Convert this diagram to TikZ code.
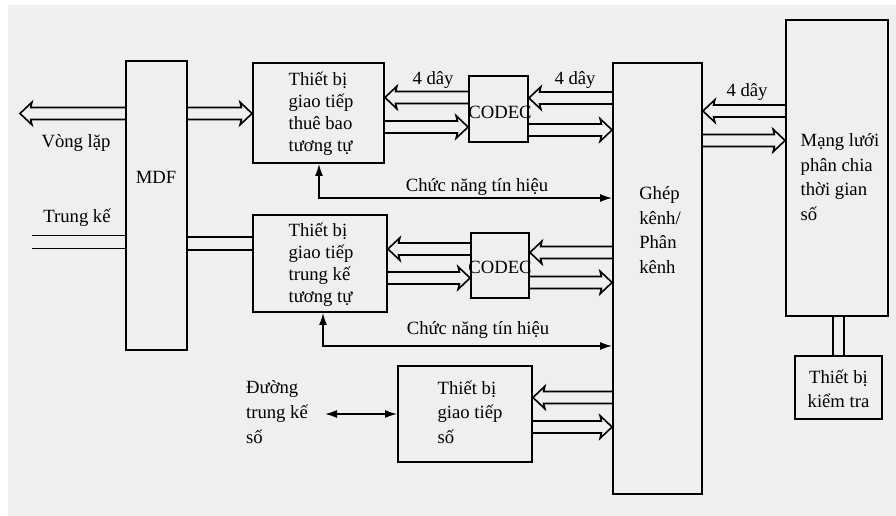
\documentclass[tikz,border=0pt]{standalone}
\usepackage{fontspec}
\setmainfont{Liberation Serif}
\usetikzlibrary{positioning,arrows.meta,calc}
\definecolor{paper}{HTML}{EFEFEF}

\begin{document}
\begin{tikzpicture}[x=0.75pt, y=-0.75pt,
  txt/.style={font=\fontsize{14}{18.5}\selectfont, inner sep=1pt, align=left},
  tighttxt/.style={txt, font=\fontsize{14}{16.4}\selectfont},
  blk/.style={draw, line width=1.4pt, inner sep=0pt},
  % hollow arrow: two shaft lines and an open head
  dblarr/.style={draw, line width=1.2pt, line join=miter, to path={
    let \p1=(\tikztostart), \p2=(\tikztotarget), \n1={sign(\x2-\x1)} in
    (\x1,{\y1+4.5pt}) -- ({\x2-\n1*8pt},{\y1+4.5pt}) -- ({\x2-\n1*9pt},{\y1+8.5pt})
    -- (\x2,\y1) -- ({\x2-\n1*9pt},{\y1-8.5pt}) -- ({\x2-\n1*8pt},{\y1-4.5pt})
    -- (\x1,{\y1-4.5pt})}},
  % plain pair of lines
  twin/.style={draw, line width=1.2pt, to path={
    let \p1=(\tikztostart), \p2=(\tikztotarget) in
    (\x1,{\y1+5pt}) -- (\x2,{\y1+5pt}) (\x1,{\y1-5pt}) -- (\x2,{\y1-5pt})}},
  twinv/.style={draw, line width=1.2pt, to path={
    let \p1=(\tikztostart), \p2=(\tikztotarget) in
    ({\x1+4pt},\y1) -- ({\x1+4pt},\y2) ({\x1-4pt},\y1) -- ({\x1-4pt},\y2)}},
  sig/.style={draw, line width=1.2pt, {Latex[length=9pt,width=6pt]}-{Latex[length=9pt,width=6pt]}}
]
\useasboundingbox (0,0) rectangle (896,516);
\fill[paper] (8,5) rectangle (896,516);

% blocks
\node[blk, minimum width=45.75pt, minimum height=216.75pt] (mdf) at (156.5,205.5) {};
\node[blk, minimum width=98.25pt, minimum height=75pt] (ifA) at (318.5,113) {};
\node[blk, minimum width=100.5pt, minimum height=72.75pt] (ifB) at (320,263.5) {};
\node[blk, minimum width=100.5pt, minimum height=72pt] (ifC) at (465,414) {};
\node[blk, minimum width=44.25pt, minimum height=49.5pt] (codecA) at (498.5,109) {};
\node[blk, minimum width=43.5pt, minimum height=48.75pt] (codecB) at (500,265.5) {};
\node[blk, minimum width=66.75pt, minimum height=323.25pt] (ghep) at (657.5,278.5) {};
\node[blk, minimum width=76.5pt, minimum height=222pt] (mang) at (837,168) {};
\node[blk, minimum width=65.25pt, minimum height=47.25pt] (kiem) at (838.5,387.5) {};

% texts
\node[txt] (mdfT) at (156,177) {MDF};
\node[tighttxt] (ifAT) at (321,114) {Thiết bị\\giao tiếp\\thuê bao\\tương tự};
\node[tighttxt] (ifBT) at (321,265) {Thiết bị\\giao tiếp\\trung kế\\tương tự};
\node[txt] (ifCT) at (470,412) {Thiết bị\\giao tiếp\\số};
\node[txt] (codecAT) at (500,112) {CODEC};
\node[txt] (codecBT) at (500,267) {CODEC};
\node[txt] (ghepT) at (660,230) {Ghép\\kênh/\\Phân\\kênh};
\node[txt] (mangT) at (840,177) {Mạng lưới\\phân chia\\thời gian\\số};
\node[txt, align=center] (kiemT) at (838.5,389) {Thiết bị\\kiểm tra};
\node[txt] (vlT) at (76,143) {Vòng lặp};
\node[txt] (tkT) at (77,218) {Trung kế};
\node[txt] (dtk) at (277,412) {Đường\\trung kế\\số};
\node[txt] (sigA) at (477,187) {Chức năng tín hiệu};
\node[txt] (sigB) at (478,330) {Chức năng tín hiệu};
\node[txt] (wA) at (433,80) {4 dây};
\node[txt] (wB) at (575,80) {4 dây};
\node[txt] (wC) at (747,92) {4 dây};

% free ends
\coordinate (vlEnd) at (20,113.5);
\coordinate (tkEnd) at (32,242);
\coordinate (dtkEnd) at (325,414);

% double connectors
\draw[dblarr] (mdf.west |- vlEnd) to (vlEnd);
\draw[dblarr] (mdf.east |- vlEnd) to (ifA.west |- vlEnd);
\draw[dblarr] (codecA.west |- 0,97.5) to (ifA.east |- 0,97.5);
\draw[dblarr] (ifA.east |- 0,127) to (codecA.west |- 0,127);
\draw[dblarr] (ghep.west |- 0,98) to (codecA.east |- 0,98);
\draw[dblarr] (codecA.east |- 0,130) to (ghep.west |- 0,130);
\draw[dblarr] (mang.west |- 0,111) to (ghep.east |- 0,111);
\draw[dblarr] (ghep.east |- 0,140.5) to (mang.west |- 0,140.5);
\draw[twin] (tkEnd) to (mdf.west |- tkEnd);
\draw[twin] (mdf.east |- 0,243.5) to (ifB.west |- 0,243.5);
\draw[dblarr] (codecB.west |- 0,249) to (ifB.east |- 0,249);
\draw[dblarr] (ifB.east |- 0,278) to (codecB.west |- 0,278);
\draw[dblarr] (ghep.west |- 0,252.5) to (codecB.east |- 0,252.5);
\draw[dblarr] (codecB.east |- 0,282.5) to (ghep.west |- 0,282.5);
\draw[dblarr] (ghep.west |- 0,397.5) to (ifC.east |- 0,397.5);
\draw[dblarr] (ifC.east |- 0,427) to (ghep.west |- 0,427);
\draw[twinv] (kiem.north |- mang.south) to (kiem.north);

% signalling
\draw[sig] (ifA.south -| 319,0) |- (ghep.west |- 0,198);
\draw[sig] (ifB.south -| 323,0) |- (ghep.west |- 0,346);
\draw[sig] (dtkEnd) -- (ifC.west);

\end{tikzpicture}
\end{document}
